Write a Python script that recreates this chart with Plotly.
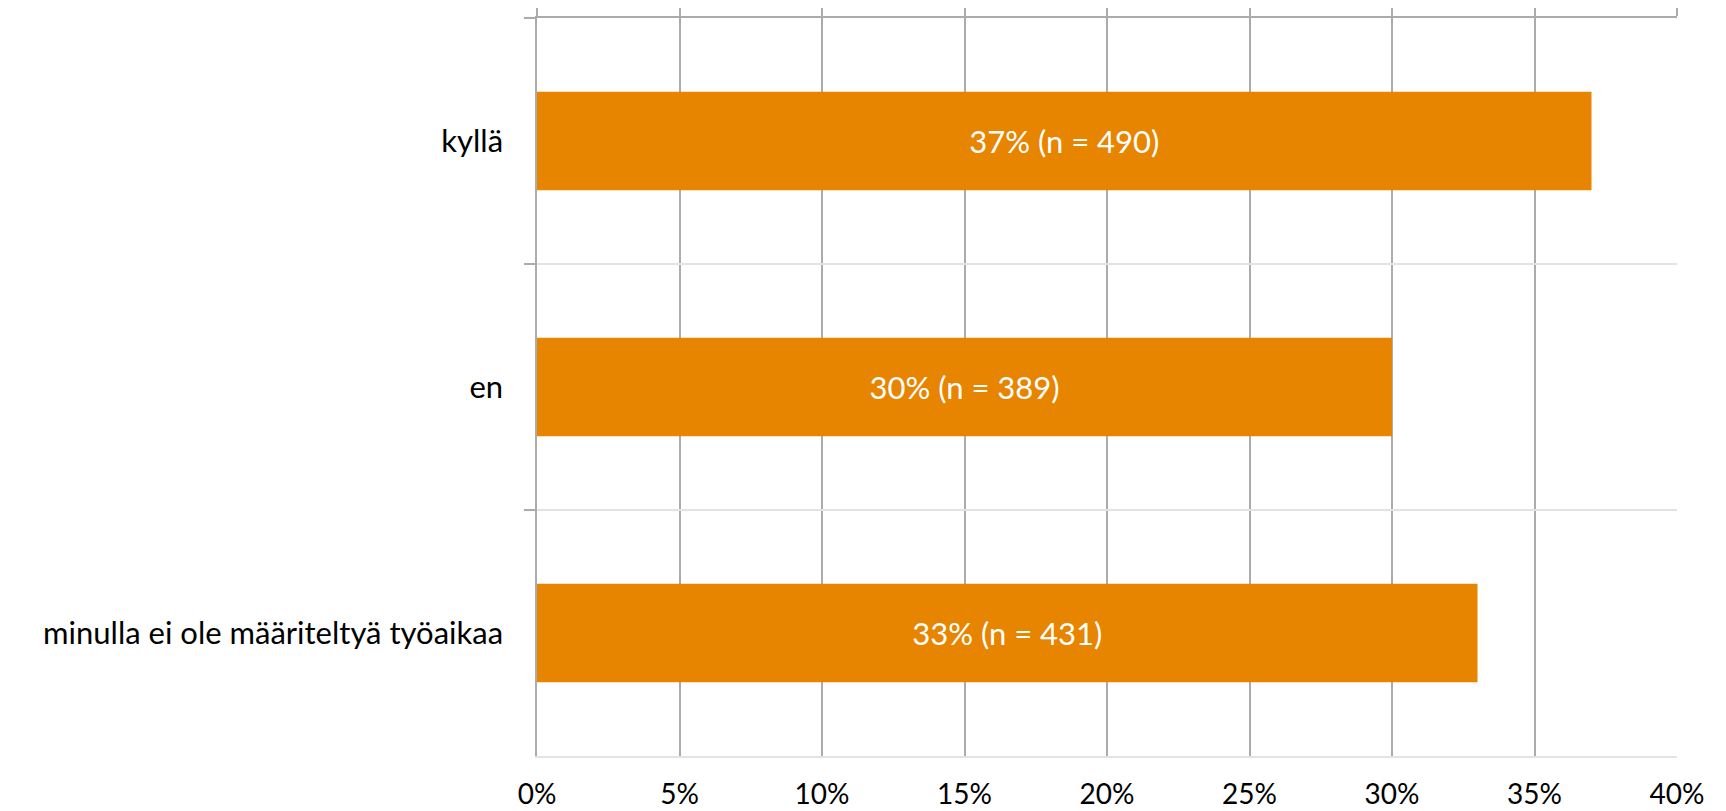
import plotly.graph_objects as go

categories = ["kyllä", "en", "minulla ei ole määriteltyä työaikaa"]
percent_values = [37, 30, 33]
n_values = [490, 389, 431]
x_tick_values = [0, 5, 10, 15, 20, 25, 30, 35, 40]
x_tick_labels = ["0%", "5%", "10%", "15%", "20%", "25%", "30%", "35%", "40%"]

bar_color = "#E78400"
grid_color = "#ABABAB"
sep_color = "#E3E3E3"
font_family = "Lato, 'Open Sans', sans-serif"

labels = [f"{p}% (n = {n})" for p, n in zip(percent_values, n_values)]

fig = go.Figure()
fig.add_trace(go.Bar(
    x=percent_values,
    y=categories,
    orientation="h",
    marker=dict(color=bar_color, line=dict(width=0)),
    text=labels,
    textposition="inside",
    insidetextanchor="middle",
    textfont=dict(color="white", size=31, family=font_family),
    hoverinfo="skip",
))
# invisible trace on the top axis to draw the top tick stubs
fig.add_trace(go.Scatter(x=[0, 40], y=[categories[0], categories[0]], xaxis="x2",
                         mode="markers", marker=dict(opacity=0), hoverinfo="skip",
                         showlegend=False))

fig.update_layout(
    width=1718, height=803,
    margin=dict(l=529, r=49, t=10, b=55),
    paper_bgcolor="white", plot_bgcolor="white",
    showlegend=False,
    bargap=0.6,
    font=dict(family=font_family, color="black", size=28),
    xaxis=dict(
        range=[0, 40], tickvals=x_tick_values, ticktext=x_tick_labels,
        showgrid=True, gridcolor=grid_color, gridwidth=1.5,
        showline=True, linecolor=sep_color, linewidth=2,
        zeroline=False, ticks="", ticklabelstandoff=12, automargin=False,
        tickfont=dict(size=28, family=font_family, color="black"),
    ),
    xaxis2=dict(
        overlaying="x", side="top", range=[0, 40], tickvals=x_tick_values,
        showticklabels=False, ticks="outside", ticklen=10, tickwidth=1.5,
        tickcolor=grid_color, showgrid=False, showline=True,
        linecolor=grid_color, linewidth=2, zeroline=False, automargin=False,
    ),
    yaxis=dict(
        autorange="reversed", categoryorder="array", categoryarray=categories,
        tickson="boundaries", ticks="outside", ticklen=11, tickwidth=1.5,
        tickcolor=grid_color, showgrid=True, gridcolor=sep_color, gridwidth=2,
        showline=True, linecolor=grid_color, linewidth=1.5,
        ticklabelstandoff=26, zeroline=False, automargin=False,
        tickfont=dict(size=31, family=font_family, color="black"),
    ),
)

fig.write_html("out.html")
